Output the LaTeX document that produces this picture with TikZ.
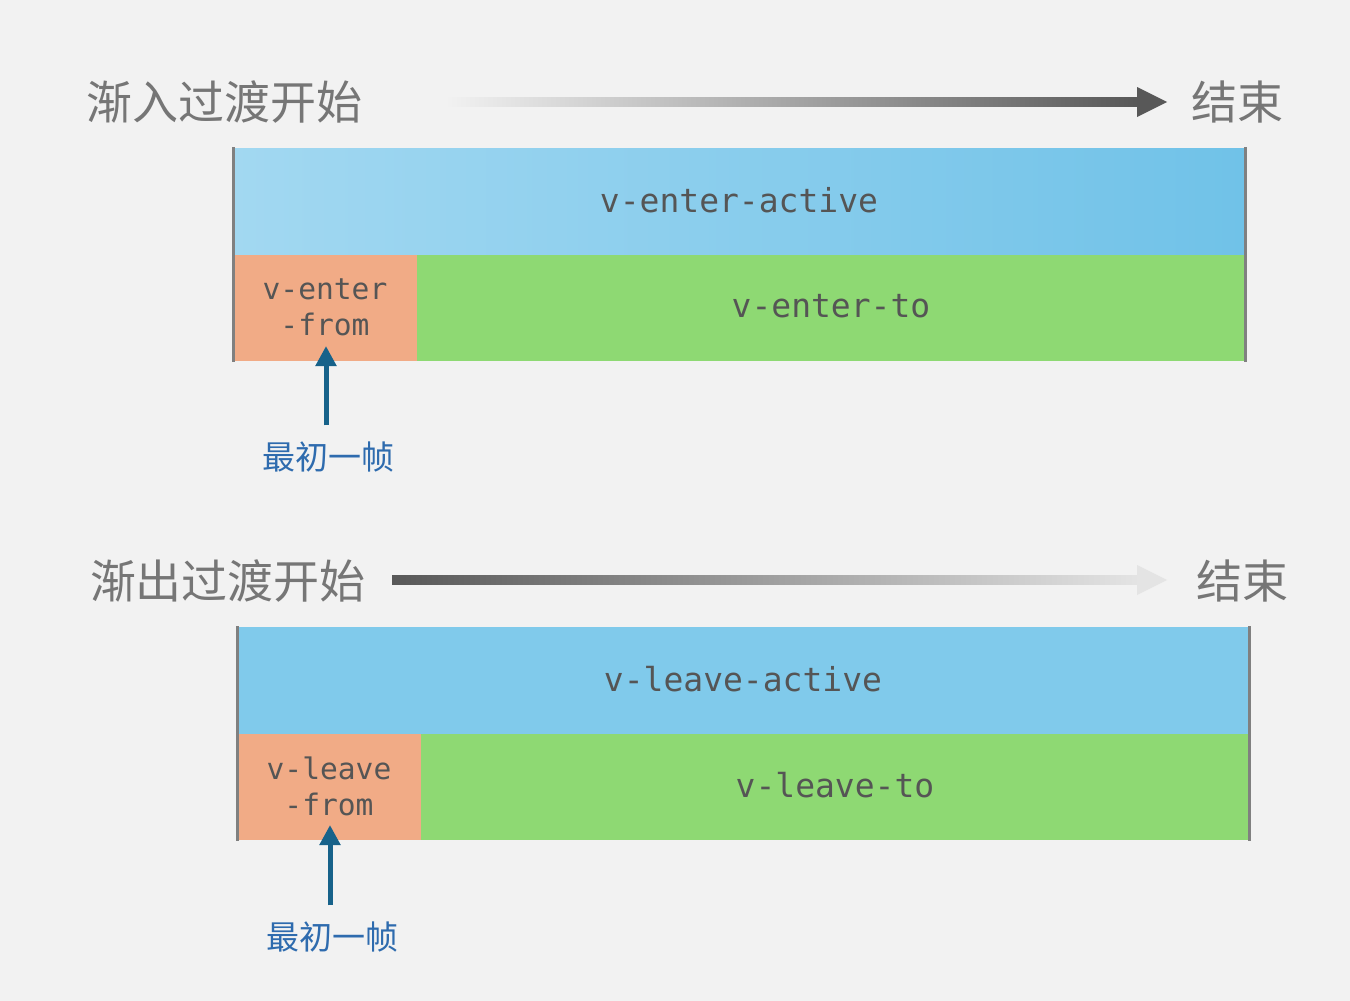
\documentclass[tikz,border=0pt]{standalone}
\usepackage{fontspec}
\setmonofont{DejaVu Sans Mono}
\newfontfamily\cjk{Noto Sans CJK SC}
\usetikzlibrary{arrows.meta}
\definecolor{bg}{HTML}{F2F2F2}
\definecolor{titlegray}{HTML}{767676}
\definecolor{monotext}{HTML}{555555}
\definecolor{edgegray}{HTML}{808080}
\definecolor{bluel}{HTML}{A2D8F1}
\definecolor{bluer}{HTML}{70C2E8}
\definecolor{blueflat}{HTML}{80CAEB}
\definecolor{orangebox}{HTML}{F1AB86}
\definecolor{greenbox}{HTML}{8ED973}
\definecolor{arrowblue}{HTML}{17628A}
\definecolor{labelblue}{HTML}{2E6BAE}
\definecolor{darkarrow}{HTML}{585858}
\definecolor{lightarrow}{HTML}{E4E4E4}
\tikzset{
  titletext/.style={text=titlegray, font=\cjk\fontsize{23}{27}\selectfont, inner sep=0pt},
  monolabel/.style={text=monotext, font=\ttfamily\fontsize{16.5}{18}\selectfont, align=center, inner sep=0pt},
  smallmono/.style={text=monotext, font=\ttfamily\fontsize{14.8}{18}\selectfont, align=center, inner sep=0pt},
  framelabel/.style={text=labelblue, font=\cjk\fontsize{16.5}{20}\selectfont, inner sep=0pt},
  edgeline/.style={draw=edgegray, line width=1.5pt},
  uparrow/.style={draw=arrowblue, line width=2.5pt, -{Triangle[width=10pt,length=10pt]}},
}
\begin{document}
\begin{tikzpicture}[x=0.5pt,y=-0.5pt]
\useasboundingbox (0,0) rectangle (1350,1001);
\fill[bg] (0,0) rectangle (1350,1001);

% ---------- enter ----------
\node[titletext] (t1) at (224,102) {渐入过渡开始};
\node[titletext] (e1) at (1237,102) {结束};
\coordinate (a1s) at (445,102);
\coordinate (a1e) at (1167,102);
\shade[left color=bg, right color=darkarrow] ([yshift=2.4pt]a1s) rectangle ([xshift=-14pt,yshift=-2.4pt]a1e);
\fill[darkarrow] ([xshift=-15pt,yshift=-7.5pt]a1e) -- (a1e) -- ([xshift=-15pt,yshift=7.5pt]a1e) -- cycle;

\shade[left color=bluel, right color=bluer] (233,148) rectangle (1245,255);
\fill[orangebox] (233,255) rectangle (417,361);
\fill[greenbox] (417,255) rectangle (1245,361);
\draw[edgeline] (233,147) -- (233,362);
\draw[edgeline] (1245,147) -- (1245,362);
\node[monolabel] (act1) at (739,200) {v-enter-active};
\node[monolabel] (to1) at (831,306) {v-enter-to};
\node[smallmono] (from1) at (325,307) {v-enter\\-from};
\node[framelabel] (f1) at (328,457) {最初一帧};
\coordinate (tip1) at (326,346);
\draw[uparrow] (f1.north -| tip1) ++(0,-16) -- (tip1);

% ---------- leave ----------
\node[titletext] (t2) at (228,581) {渐出过渡开始};
\node[titletext] (e2) at (1242,581) {结束};
\coordinate (a2s) at (392,580);
\coordinate (a2e) at (1167,580);
\shade[left color=darkarrow, right color=lightarrow] ([yshift=2.4pt]a2s) rectangle ([xshift=-14pt,yshift=-2.4pt]a2e);
\fill[lightarrow] ([xshift=-15pt,yshift=-7.5pt]a2e) -- (a2e) -- ([xshift=-15pt,yshift=7.5pt]a2e) -- cycle;

\fill[blueflat] (237,627) rectangle (1249,734);
\fill[orangebox] (237,734) rectangle (421,840);
\fill[greenbox] (421,734) rectangle (1249,840);
\draw[edgeline] (237,626) -- (237,841);
\draw[edgeline] (1249,626) -- (1249,841);
\node[monolabel] (act2) at (743,679) {v-leave-active};
\node[monolabel] (to2) at (835,785) {v-leave-to};
\node[smallmono] (from2) at (329,786) {v-leave\\-from};
\node[framelabel] (f2) at (332,937) {最初一帧};
\coordinate (tip2) at (330,825);
\draw[uparrow] (f2.north -| tip2) ++(0,-16) -- (tip2);
\end{tikzpicture}
\end{document}
